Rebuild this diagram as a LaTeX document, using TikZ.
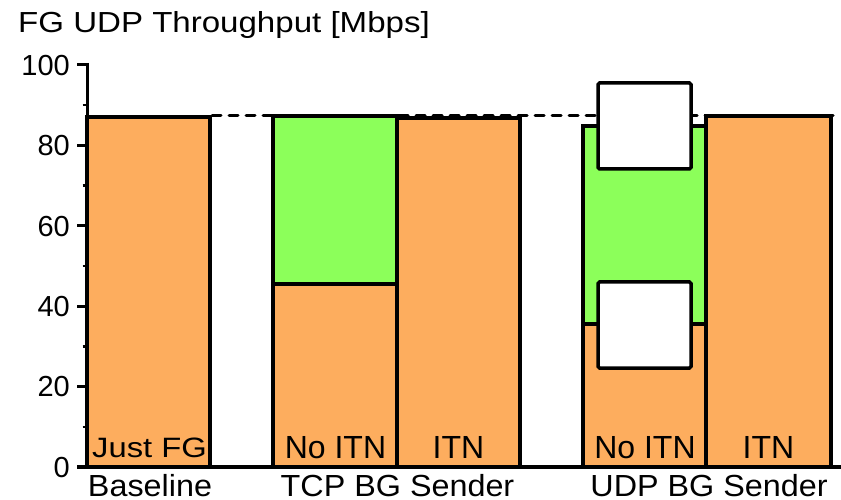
\documentclass[tikz,border=0pt]{standalone}
\usepackage{fontspec}
\setmainfont{Liberation Sans}
\usepackage{graphicx}
\definecolor{barorange}{RGB}{253,173,94}
\definecolor{bargreen}{RGB}{140,255,90}
\newcommand{\hs}[2]{\scalebox{#1}[1]{#2}}
\begin{document}
\begin{tikzpicture}[x=1bp,y=-1bp,
  barline/.style={draw=black,line width=3.3bp,line join=miter},
  orangebar/.style={barline,fill=barorange},
  greenbar/.style={barline,fill=bargreen},
  whitebox/.style={draw=black,line width=3.5bp,fill=white,rounded corners=1.5bp},
  errseg/.style={line width=4.5bp},
  refline/.style={line width=3bp,dash pattern=on 9bp off 8bp,line cap=round},
  ticklab/.style={anchor=base east,inner sep=0pt,font=\fontsize{29bp}{29bp}\selectfont},
  inlab/.style={anchor=base,inner sep=0pt,font=\fontsize{32bp}{32bp}\selectfont},
  catlab/.style={anchor=base,inner sep=0pt,font=\fontsize{30.5bp}{30.5bp}\selectfont},
  titlelab/.style={anchor=base west,inner sep=0pt,font=\fontsize{29bp}{29bp}\selectfont}]
\useasboundingbox (0,0) rectangle (841,500);
% bars
\draw[orangebar] (87,467) rectangle (210,117);
\draw[orangebar] (273,467) rectangle (397,284);
\draw[greenbar] (273,284) rectangle (397,116);
\draw[orangebar] (397,467) rectangle (520,118);
\draw[orangebar] (583,467) rectangle (706,324);
\draw[greenbar] (583,324) rectangle (706,126);
\draw[orangebar] (706,467) rectangle (831,116);
% mean segments
\draw[errseg] (100,117) -- (197,117);
\draw[errseg] (287,116) -- (382,116);
\draw[errseg] (287,284) -- (382,284);
\draw[line width=3bp] (412,119) -- (507,119);
\draw[errseg] (722,116) -- (817,116);
% reference dashed line
\coordinate (dashA) at (212,116);
\coordinate (dashB) at (838,116);
\draw[refline] (dashA) -- (dashB);
% white boxes
\draw[whitebox] (598,83) rectangle (691,169);
\draw[whitebox] (598,282) rectangle (691,368);
% axes
\draw[line width=3bp] (87,63) -- (87,468.5);
\draw[line width=3.5bp] (77,467) -- (841,467);
\foreach \v in {0,20,40,60,80,100}{
  \draw[line width=3bp] (77,{467-4.02*\v}) -- (87,{467-4.02*\v});
  \node[ticklab] (t\v) at (70,{467-4.02*\v+10.3}) {\v};
}
\foreach \v in {10,30,50,70,90}{
  \draw[line width=2.5bp] (82.5,{467-4.02*\v}) -- (87,{467-4.02*\v});
}
% labels
\node[titlelab] (title) at (18,33) {\hs{1.14}{FG UDP Throughput [Mbps]}};
\node[anchor=base,inner sep=0pt,font=\fontsize{28bp}{28bp}\selectfont] (justfg) at (149.5,457) {\hs{1.17}{Just FG}};
\node[inlab] (noitn1) at (335.5,458) {No ITN};
\node[inlab] (itn1) at (458.5,458) {ITN};
\node[inlab] (noitn2) at (645,458) {No ITN};
\node[inlab] (itn2) at (768.5,458) {ITN};
\node[catlab] (baseline) at (150,496) {\hs{1.06}{Baseline}};
\node[catlab] (tcp) at (397.5,496) {\hs{1.06}{TCP BG Sender}};
\node[catlab] (udp) at (709,496) {\hs{1.06}{UDP BG Sender}};
\end{tikzpicture}
\end{document}
